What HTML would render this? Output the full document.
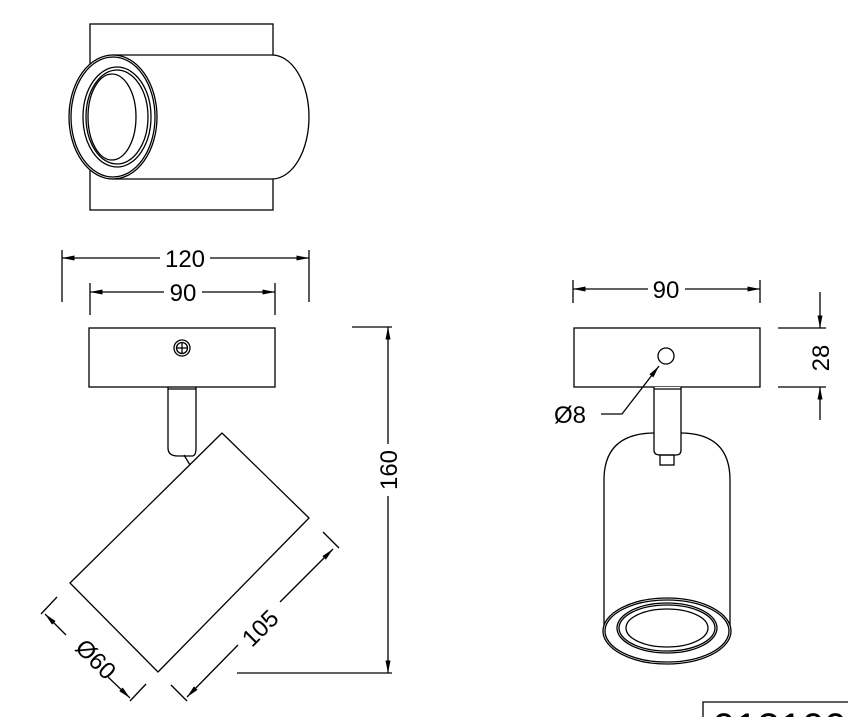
<!DOCTYPE html>
<html><head><style>html,body{margin:0;padding:0;background:#fff;overflow:hidden;width:848px;height:717px}svg{display:block;overflow:hidden}text{font-family:"Liberation Sans",Arial,sans-serif;fill:#000}</style></head>
<body>
<svg width="848" height="717" viewBox="0 0 848 717" xmlns="http://www.w3.org/2000/svg" fill="none" stroke="#000" stroke-width="1.3">
<defs>
<marker id="a" viewBox="0 0 10 4" refX="10" refY="2" markerWidth="22" markerHeight="5" markerUnits="userSpaceOnUse" orient="auto-start-reverse"><path d="M0,0L10,2L0,4Z" fill="#000" stroke="none"/></marker>
</defs>
<!-- top view -->
<rect x="90" y="24" width="183" height="186"/>
<path d="M113,55 H272 A37,62 0 0 1 272,179 H113 Z" fill="#fff"/>
<ellipse cx="113" cy="117" rx="44" ry="62" fill="#fff"/>
<ellipse cx="113" cy="117" rx="42" ry="60"/>
<ellipse cx="117" cy="117" rx="34" ry="50"/>
<ellipse cx="117" cy="117" rx="31" ry="47"/>
<ellipse cx="112" cy="117" rx="24" ry="43"/>
<!-- front dims -->
<line x1="62" y1="250" x2="62" y2="302"/><line x1="309" y1="250" x2="309" y2="302"/>
<line x1="62" y1="258" x2="160" y2="258" marker-start="url(#a)"/><line x1="210" y1="258" x2="309" y2="258" marker-end="url(#a)"/>
<text x="185" y="267" font-size="24" text-anchor="middle" stroke="none">120</text>
<line x1="90" y1="283" x2="90" y2="315"/><line x1="275" y1="283" x2="275" y2="315"/>
<line x1="90" y1="292" x2="164" y2="292" marker-start="url(#a)"/><line x1="202" y1="292" x2="275" y2="292" marker-end="url(#a)"/>
<text x="183" y="301" font-size="24" text-anchor="middle" stroke="none">90</text>
<!-- front plate -->
<rect x="89" y="328" width="186" height="59"/>
<circle cx="182" cy="348" r="8"/><circle cx="182" cy="348" r="5.5"/>
<line x1="176.5" y1="348" x2="187.5" y2="348"/><line x1="182" y1="342.5" x2="182" y2="353.5"/>
<path d="M168,387 V448 Q168,456 178,456 H192 Q196,456 196,448 V387"/>
<line x1="168" y1="389" x2="196" y2="389"/>
<path d="M184,455 L190,465 L197,458" />
<polygon points="222,433 309,518 158,672 70,583" fill="#fff" stroke-linejoin="round"/>
<!-- 105 dim -->
<line x1="171" y1="685" x2="187" y2="701"/><line x1="323" y1="532" x2="339" y2="548"/>
<line x1="187" y1="697" x2="238" y2="645" marker-start="url(#a)"/><line x1="280" y1="602" x2="333" y2="549" marker-end="url(#a)"/>
<text x="0" y="0" font-size="24" text-anchor="middle" stroke="none" transform="translate(266,634) rotate(-45)">105</text>
<!-- Ø60 dim -->
<line x1="57" y1="597" x2="41" y2="614"/><line x1="146" y1="684" x2="130" y2="701"/>
<line x1="45" y1="614" x2="66" y2="635" marker-start="url(#a)"/><line x1="108" y1="677" x2="130" y2="698" marker-end="url(#a)"/>
<text x="0" y="0" font-size="24" text-anchor="middle" stroke="none" transform="translate(90,665) rotate(45)">Ø60</text>
<!-- 160 dim -->
<line x1="352" y1="327" x2="392" y2="327"/><line x1="237" y1="673" x2="392" y2="673"/>
<line x1="388" y1="327" x2="388" y2="444" marker-start="url(#a)"/><line x1="388" y1="496" x2="388" y2="673" marker-end="url(#a)"/>
<text x="0" y="0" font-size="24" text-anchor="middle" stroke="none" transform="translate(397,470) rotate(-90)">160</text>
<!-- side view -->
<line x1="573" y1="280" x2="573" y2="303"/><line x1="760" y1="280" x2="760" y2="303"/>
<line x1="573" y1="289" x2="648" y2="289" marker-start="url(#a)"/><line x1="685" y1="289" x2="760" y2="289" marker-end="url(#a)"/>
<text x="666" y="298" font-size="24" text-anchor="middle" stroke="none">90</text>
<rect x="574" y="328" width="186" height="59"/>
<circle cx="666" cy="356" r="8"/>
<polyline points="601,414 622,414 659,366" marker-end="url(#a)"/>
<text x="554" y="423" font-size="24" stroke="none">Ø8</text>
<path d="M604,631 V480 Q604,433 655,433 H680 Q730,433 730,480 V631" fill="#fff"/>
<path d="M654,387 V450 Q654,455 660,455 H676 Q681,455 681,450 V387" fill="#fff"/>
<line x1="654" y1="389" x2="681" y2="389"/>
<rect x="660" y="455" width="14" height="10"/>
<ellipse cx="667" cy="631" rx="64" ry="33" fill="#fff"/>
<ellipse cx="667" cy="631" rx="62" ry="31"/>
<ellipse cx="667" cy="628" rx="50" ry="25"/>
<ellipse cx="667" cy="628" rx="48" ry="23"/>
<ellipse cx="667" cy="628" rx="41" ry="19"/>
<!-- 28 dim -->
<line x1="778" y1="328" x2="826" y2="328"/><line x1="778" y1="387" x2="826" y2="387"/>
<line x1="820" y1="292" x2="820" y2="328" marker-end="url(#a)"/>
<line x1="820" y1="420" x2="820" y2="387" marker-end="url(#a)"/>
<text x="0" y="0" font-size="24" text-anchor="middle" stroke="none" transform="translate(829,358) rotate(-90)">28</text>
<!-- bottom-right box -->
<polyline points="703,717 703,702 848,702"/>
<text x="713" y="741" font-size="40" stroke="none">913100</text>
</svg>
</body></html>
